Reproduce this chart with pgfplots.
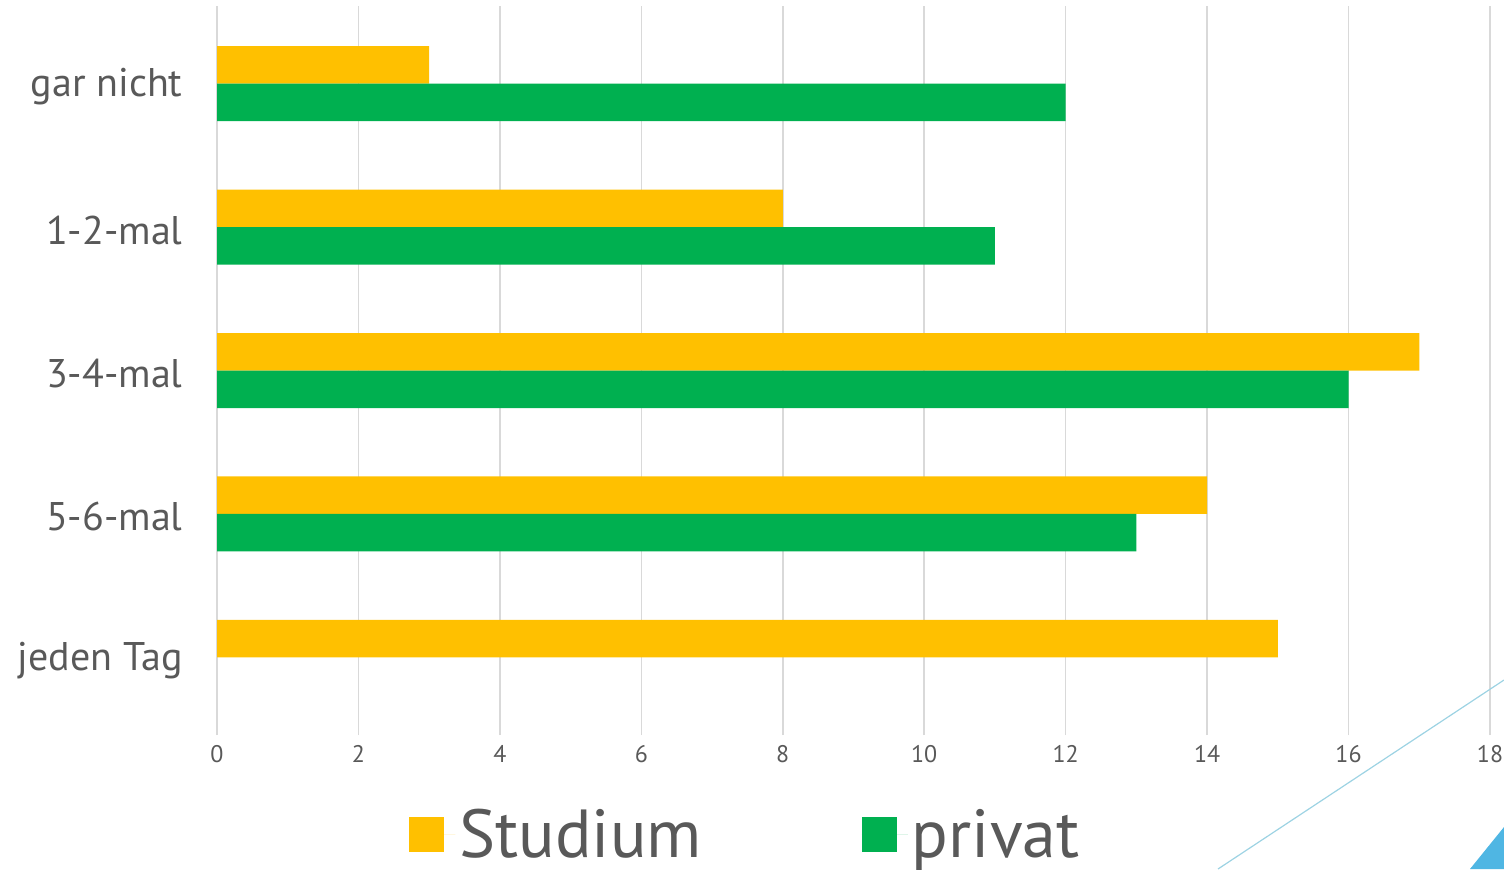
\documentclass[border=0pt]{standalone}
\usepackage{pgfplots}
\pgfplotsset{compat=1.18}
\usepackage{fontspec}
\setmainfont{PT Sans}
\definecolor{cStud}{HTML}{FFC000}
\definecolor{cPriv}{HTML}{00B050}
\definecolor{txt}{HTML}{595959}
\definecolor{grd}{HTML}{D9D9D9}
\definecolor{deco}{HTML}{9DD3E3}
\definecolor{decofill}{HTML}{4FB6E3}
\begin{document}
\begin{tikzpicture}
\path[use as bounding box] (0,0) rectangle (752pt,434.5pt);
\begin{axis}[
  at={(108.5pt,70pt)}, anchor=south west,
  scale only axis, width=636.5pt, height=358.5pt,
  xbar, bar width=18.75pt,
  xmin=0, xmax=18, ymin=-0.5, ymax=4.5,
  y dir=reverse,
  axis line style={draw=none},
  xtick={0,2,...,18},
  ytick={0,1,2,3,4},
  yticklabels={gar nicht,1-2-mal,3-4-mal,5-6-mal,jeden Tag},
  xmajorgrids, major grid style={grd, line width=0.75pt},
  x tick style={grd, line width=0.75pt}, tick align=outside,
  major tick length=3pt,
  y tick style={draw=none},
  /pgf/number format/assume math mode=true,
  x tick label style={font=\fontsize{12}{14}\selectfont, text=txt, inner sep=0pt, yshift=-5pt},
  y tick label style={font=\fontsize{20}{24}\selectfont, text=txt, inner sep=0pt, xshift=-14pt, yshift=-1.5pt},
  legend style={draw=none, fill=none, at={(0.416,-0.1478)}, anchor=center,
    font=\fontsize{34}{39}\selectfont, text=txt,
    /tikz/every even column/.append style={column sep=78pt}},
  legend columns=2,
  legend image code/.code={\fill[#1] (0pt,-8.75pt) rectangle (17.5pt,8.75pt); \path (0pt,0pt) -- (23pt,0pt);},
]
\addplot[fill=cStud, draw=none, bar shift=9.375pt] coordinates {(3,0) (8,1) (17,2) (14,3) (15,4)};
\addlegendentry{Studium}
\addplot[fill=cPriv, draw=none, bar shift=-9.375pt] coordinates {(12,0) (11,1) (16,2) (13,3)};
\addlegendentry{privat}
\end{axis}
\draw[deco, line width=0.6pt] (609pt,0pt) -- (752pt,94.5pt);
\fill[decofill] (735pt,0pt) -- (752pt,21pt) -- (752pt,0pt) -- cycle;
\end{tikzpicture}
\end{document}
